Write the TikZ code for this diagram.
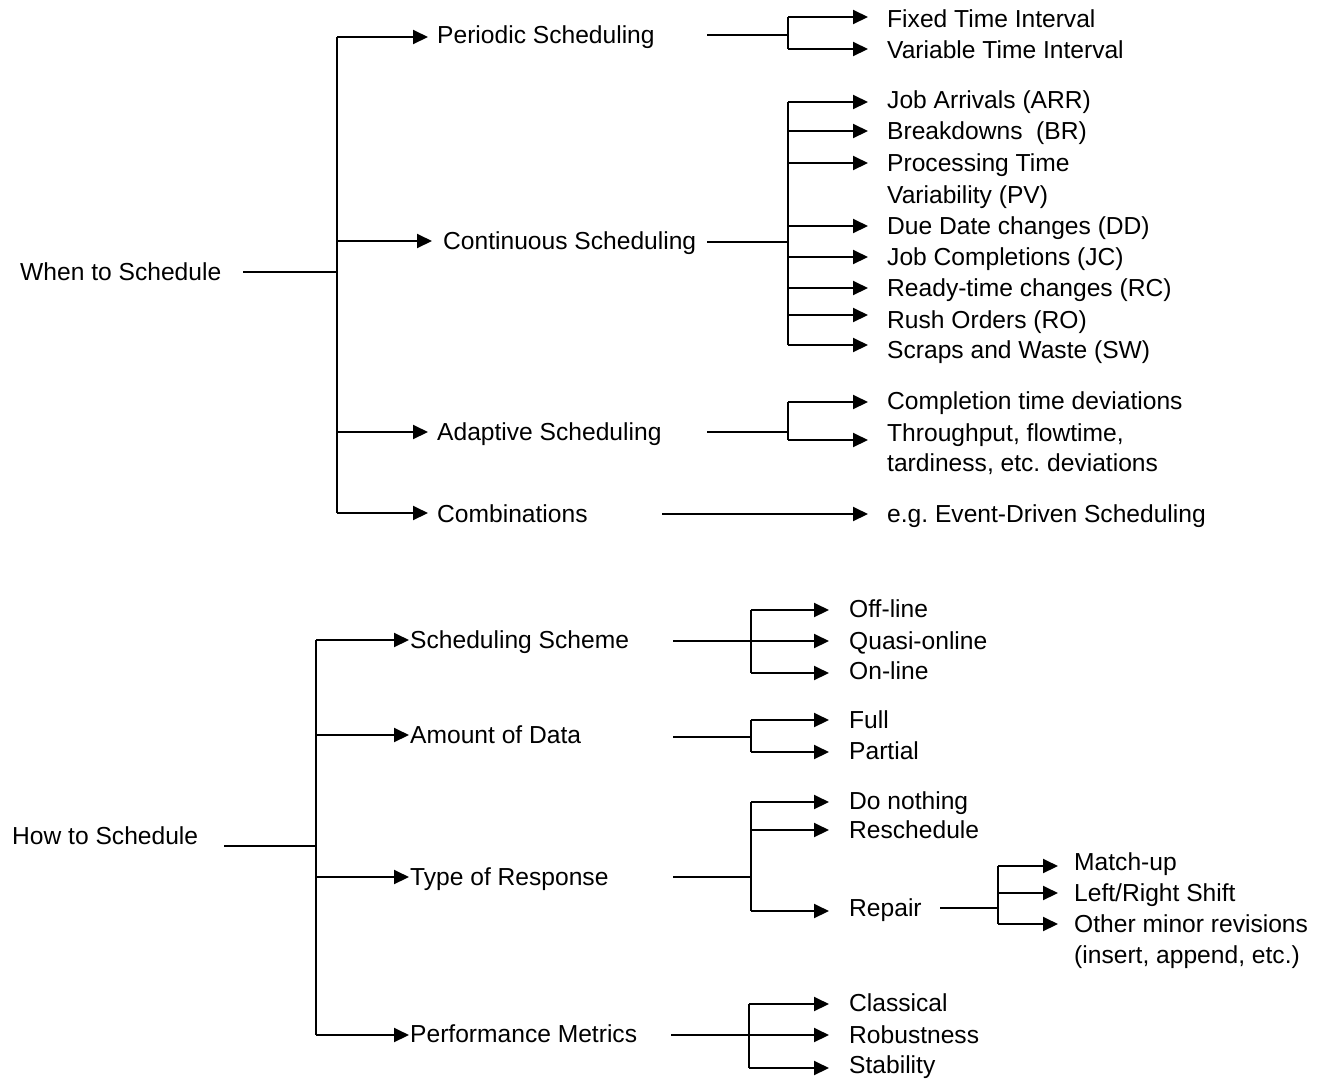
\documentclass[tikz,border=0pt]{standalone}
\usepackage{fontspec}
\setmainfont{Liberation Sans}
\usetikzlibrary{arrows.meta}
\frenchspacing
\tikzset{
  lbl/.style={anchor=west, inner sep=0pt, text height=17pt, text depth=1pt, font=\fontsize{24.6}{30}\selectfont},
  ln/.style={line width=2pt},
  arr/.style={line width=2pt, -{Triangle[length=15pt,width=14pt]}},
}
\begin{document}
\begin{tikzpicture}[x=1pt,y=-1pt]
\useasboundingbox (0,0) rectangle (1320,1080);
% ---------- When to Schedule ----------
\node[lbl] (when) at (20,272) {When to Schedule};
\node[lbl] (per) at (437,35) {Periodic Scheduling};
\node[lbl] (con) at (443,241) {Continuous Scheduling};
\node[lbl] (ada) at (437,432) {Adaptive Scheduling};
\node[lbl] (com) at (437,514) {Combinations};
\node[lbl] (fti) at (887,19) {Fixed Time Interval};
\node[lbl] (vti) at (887,50) {Variable Time Interval};
\node[lbl] (arr) at (887,100) {Job Arrivals (ARR)};
\node[lbl] (br) at (887,131) {Breakdowns~~(BR)};
\node[lbl] (pt) at (887,163) {Processing Time};
\node[lbl] (pv) at (887,195) {Variability (PV)};
\node[lbl] (dd) at (887,226) {Due Date changes (DD)};
\node[lbl] (jc) at (887,257) {Job Completions (JC)};
\node[lbl] (rc) at (887,288) {Ready-time changes (RC)};
\node[lbl] (ro) at (887,320) {Rush Orders (RO)};
\node[lbl] (sw) at (887,350) {Scraps and Waste (SW)};
\node[lbl] (ctd) at (887,401) {Completion time deviations};
\node[lbl] (thr) at (887,433) {Throughput, flowtime,};
\node[lbl] (tar) at (887,463) {tardiness, etc.\ deviations};
\node[lbl] (eg) at (887,514) {e.g.\ Event-Driven Scheduling};

\coordinate (w0) at (243,272);
\coordinate (wj) at (337,272);
\draw[ln] (w0) -- (wj);
\coordinate (wt) at (337,37);
\coordinate (wb) at (337,513);
\draw[ln] (wt) -- (wb);
\draw[arr] (wt) -- ([xshift=-9pt,yshift=-2pt]per.west);
\draw[arr] (wj |- con) -- ([xshift=-11pt]con.west);
\draw[arr] (wj |- ada) -- ([xshift=-9pt]ada.west);
\draw[arr] (wb) -- ([xshift=-9pt,yshift=1pt]com.west);

% periodic
\coordinate (ps) at (707,35);
\coordinate (pj) at (788,35);
\coordinate (ftiA) at ([xshift=-19pt,yshift=2pt]fti.west);
\coordinate (vtiA) at ([xshift=-19pt,yshift=1pt]vti.west);
\draw[ln] (ps) -- (pj);
\draw[ln] (pj |- ftiA) -- (pj |- vtiA);
\draw[arr] (pj |- ftiA) -- (ftiA);
\draw[arr] (pj |- vtiA) -- (vtiA);

% continuous
\coordinate (cs) at (707,242);
\coordinate (cj) at (788,242);
\coordinate (arrA) at ([xshift=-19pt,yshift=-2pt]arr.west);
\coordinate (brA) at ([xshift=-19pt]br.west);
\coordinate (ptA) at ([xshift=-19pt]pt.west);
\coordinate (ddA) at ([xshift=-19pt]dd.west);
\coordinate (jcA) at ([xshift=-19pt]jc.west);
\coordinate (rcA) at ([xshift=-19pt]rc.west);
\coordinate (roA) at ([xshift=-19pt,yshift=5pt]ro.west);
\coordinate (swA) at ([xshift=-19pt,yshift=5pt]sw.west);
\draw[ln] (cs) -- (cj);
\draw[ln] (cj |- arrA) -- (cj |- swA);
\foreach \t in {arrA,brA,ptA,ddA,jcA,rcA,roA,swA}{
  \draw[arr] (cj |- \t) -- (\t);
}

% adaptive
\coordinate (as) at (707,432);
\coordinate (aj) at (788,432);
\coordinate (ctdA) at ([xshift=-19pt,yshift=-1pt]ctd.west);
\coordinate (thrA) at ([xshift=-19pt,yshift=-7pt]thr.west);
\draw[ln] (as) -- (aj);
\draw[ln] (aj |- ctdA) -- (aj |- thrA);
\draw[arr] (aj |- ctdA) -- (ctdA);
\draw[arr] (aj |- thrA) -- (thrA);

% combinations
\coordinate (cms) at (662,514);
\draw[arr] (cms) -- ([xshift=-19pt]eg.west);

% ---------- How to Schedule ----------
\node[lbl] (how) at (12,836) {How to Schedule};
\node[lbl] (ss) at (410,640) {Scheduling Scheme};
\node[lbl] (amt) at (410,735) {Amount of Data};
\node[lbl] (tor) at (410,877) {Type of Response};
\node[lbl] (pm) at (410,1034) {Performance Metrics};
\node[lbl] (off) at (849,609) {Off-line};
\node[lbl] (qua) at (849,641) {Quasi-online};
\node[lbl] (onl) at (849,671) {On-line};
\node[lbl] (ful) at (849,720) {Full};
\node[lbl] (par) at (849,751) {Partial};
\node[lbl] (don) at (849,801) {Do nothing};
\node[lbl] (res) at (849,830) {Reschedule};
\node[lbl] (rep) at (849,908) {Repair};
\node[lbl] (mu) at (1074,862) {Match-up};
\node[lbl] (lrs) at (1074,893) {Left/Right Shift};
\node[lbl] (omr) at (1074,924) {Other minor revisions};
\node[lbl] (ins) at (1074,955) {(insert, append, etc.)};
\node[lbl] (cla) at (849,1003) {Classical};
\node[lbl] (rob) at (849,1035) {Robustness};
\node[lbl] (sta) at (849,1065) {Stability};

\coordinate (h0) at (224,846);
\coordinate (hj) at (316,846);
\draw[ln] (h0) -- (hj);
\coordinate (ht) at (316,640);
\coordinate (hb) at (316,1035);
\draw[ln] (ht) -- (hb);
\draw[arr] (ht) -- ([xshift=-1pt]ss.west);
\draw[arr] (hj |- amt) -- ([xshift=-1pt]amt.west);
\draw[arr] (hj |- tor) -- ([xshift=-1pt]tor.west);
\draw[arr] (hb) -- ([xshift=-1pt,yshift=-1pt]pm.west);

% scheduling scheme
\coordinate (sss) at (673,641);
\coordinate (ssj) at (751,641);
\coordinate (offA) at ([xshift=-20pt,yshift=-1pt]off.west);
\coordinate (quaA) at ([xshift=-20pt]qua.west);
\coordinate (onlA) at ([xshift=-20pt,yshift=-2pt]onl.west);
\draw[ln] (sss) -- (ssj);
\draw[ln] (ssj |- offA) -- (ssj |- onlA);
\foreach \t in {offA,quaA,onlA}{ \draw[arr] (ssj |- \t) -- (\t); }

% amount of data
\coordinate (ams) at (673,737);
\coordinate (amj) at (751,737);
\coordinate (fulA) at ([xshift=-20pt]ful.west);
\coordinate (parA) at ([xshift=-20pt,yshift=-1pt]par.west);
\draw[ln] (ams) -- (amj);
\draw[ln] (amj |- fulA) -- (amj |- parA);
\foreach \t in {fulA,parA}{ \draw[arr] (amj |- \t) -- (\t); }

% type of response
\coordinate (tos) at (673,877);
\coordinate (toj) at (751,877);
\coordinate (donA) at ([xshift=-20pt,yshift=-1pt]don.west);
\coordinate (resA) at ([xshift=-20pt]res.west);
\coordinate (repA) at ([xshift=-20pt,yshift=-3pt]rep.west);
\draw[ln] (tos) -- (toj);
\draw[ln] (toj |- donA) -- (toj |- repA);
\foreach \t in {donA,resA,repA}{ \draw[arr] (toj |- \t) -- (\t); }

% repair
\coordinate (rps) at (940,908);
\coordinate (rpj) at (998,908);
\coordinate (muA) at ([xshift=-16pt,yshift=-4pt]mu.west);
\coordinate (lrsA) at ([xshift=-16pt]lrs.west);
\coordinate (omrA) at ([xshift=-16pt]omr.west);
\draw[ln] (rps) -- (rpj);
\draw[ln] (rpj |- muA) -- (rpj |- omrA);
\foreach \t in {muA,lrsA,omrA}{ \draw[arr] (rpj |- \t) -- (\t); }

% performance metrics
\coordinate (pms) at (671,1035);
\coordinate (pmj) at (749,1035);
\coordinate (claA) at ([xshift=-20pt,yshift=-1pt]cla.west);
\coordinate (robA) at ([xshift=-20pt]rob.west);
\coordinate (staA) at ([xshift=-20pt,yshift=-3pt]sta.west);
\draw[ln] (pms) -- (pmj);
\draw[ln] (pmj |- claA) -- (pmj |- staA);
\foreach \t in {claA,robA,staA}{ \draw[arr] (pmj |- \t) -- (\t); }
\end{tikzpicture}
\end{document}
